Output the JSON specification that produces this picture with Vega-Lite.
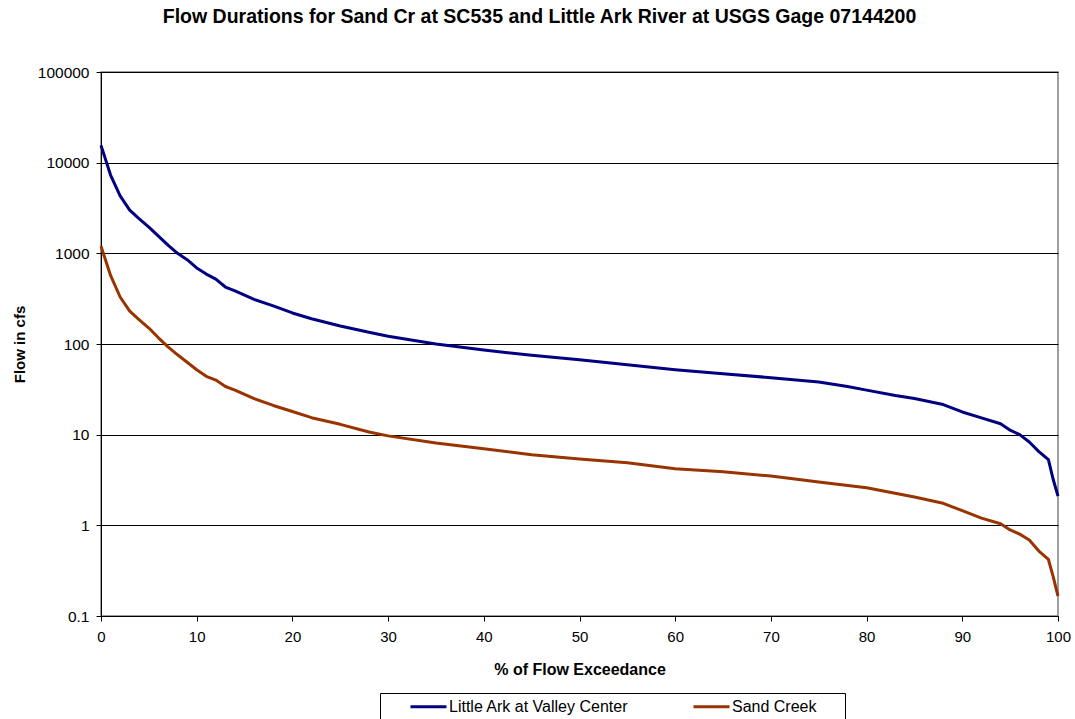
{
  "$schema": "https://vega.github.io/schema/vega-lite/v6.json",
  "autosize": "none",
  "width": 957,
  "height": 544,
  "padding": {"left": 101, "top": 72, "right": 17, "bottom": 103},
  "background": "white",
  "config": {
    "font": "Liberation Sans",
    "view": {"stroke": "#808080", "strokeWidth": 1.5}
  },
  "title": {
    "text": "Flow Durations for Sand Cr at SC535 and Little Ark River at USGS Gage 07144200",
    "font": "Liberation Sans",
    "fontSize": 19.5,
    "fontWeight": "bold",
    "color": "black",
    "anchor": "middle",
    "frame": "group",
    "dx": -40,
    "offset": 38
  },
  "data": {
    "values": [
      {"pct": 0, "flow": 15500, "series": "Little Ark at Valley Center"},
      {"pct": 1, "flow": 7300, "series": "Little Ark at Valley Center"},
      {"pct": 2, "flow": 4300, "series": "Little Ark at Valley Center"},
      {"pct": 3, "flow": 3000, "series": "Little Ark at Valley Center"},
      {"pct": 4, "flow": 2400, "series": "Little Ark at Valley Center"},
      {"pct": 5, "flow": 1950, "series": "Little Ark at Valley Center"},
      {"pct": 6, "flow": 1550, "series": "Little Ark at Valley Center"},
      {"pct": 7, "flow": 1230, "series": "Little Ark at Valley Center"},
      {"pct": 8, "flow": 1000, "series": "Little Ark at Valley Center"},
      {"pct": 9, "flow": 850, "series": "Little Ark at Valley Center"},
      {"pct": 10, "flow": 690, "series": "Little Ark at Valley Center"},
      {"pct": 11, "flow": 590, "series": "Little Ark at Valley Center"},
      {"pct": 12, "flow": 520, "series": "Little Ark at Valley Center"},
      {"pct": 13, "flow": 425, "series": "Little Ark at Valley Center"},
      {"pct": 14, "flow": 385, "series": "Little Ark at Valley Center"},
      {"pct": 15, "flow": 345, "series": "Little Ark at Valley Center"},
      {"pct": 16, "flow": 310, "series": "Little Ark at Valley Center"},
      {"pct": 18, "flow": 263, "series": "Little Ark at Valley Center"},
      {"pct": 20, "flow": 220, "series": "Little Ark at Valley Center"},
      {"pct": 22, "flow": 190, "series": "Little Ark at Valley Center"},
      {"pct": 25, "flow": 158, "series": "Little Ark at Valley Center"},
      {"pct": 28, "flow": 135, "series": "Little Ark at Valley Center"},
      {"pct": 30, "flow": 122, "series": "Little Ark at Valley Center"},
      {"pct": 35, "flow": 100, "series": "Little Ark at Valley Center"},
      {"pct": 40, "flow": 86, "series": "Little Ark at Valley Center"},
      {"pct": 45, "flow": 75, "series": "Little Ark at Valley Center"},
      {"pct": 50, "flow": 67, "series": "Little Ark at Valley Center"},
      {"pct": 55, "flow": 59, "series": "Little Ark at Valley Center"},
      {"pct": 60, "flow": 52, "series": "Little Ark at Valley Center"},
      {"pct": 65, "flow": 47, "series": "Little Ark at Valley Center"},
      {"pct": 70, "flow": 42.5, "series": "Little Ark at Valley Center"},
      {"pct": 75, "flow": 38, "series": "Little Ark at Valley Center"},
      {"pct": 78, "flow": 34, "series": "Little Ark at Valley Center"},
      {"pct": 80, "flow": 31, "series": "Little Ark at Valley Center"},
      {"pct": 83, "flow": 27, "series": "Little Ark at Valley Center"},
      {"pct": 85, "flow": 25, "series": "Little Ark at Valley Center"},
      {"pct": 88, "flow": 21.5, "series": "Little Ark at Valley Center"},
      {"pct": 90, "flow": 17.8, "series": "Little Ark at Valley Center"},
      {"pct": 92, "flow": 15.3, "series": "Little Ark at Valley Center"},
      {"pct": 94, "flow": 13.2, "series": "Little Ark at Valley Center"},
      {"pct": 95, "flow": 11.2, "series": "Little Ark at Valley Center"},
      {"pct": 96, "flow": 10, "series": "Little Ark at Valley Center"},
      {"pct": 97, "flow": 8.3, "series": "Little Ark at Valley Center"},
      {"pct": 98, "flow": 6.5, "series": "Little Ark at Valley Center"},
      {"pct": 99, "flow": 5.3, "series": "Little Ark at Valley Center"},
      {"pct": 99.5, "flow": 3.2, "series": "Little Ark at Valley Center"},
      {"pct": 100, "flow": 2.1, "series": "Little Ark at Valley Center"},
      {"pct": 0, "flow": 1200, "series": "Sand Creek"},
      {"pct": 1, "flow": 570, "series": "Sand Creek"},
      {"pct": 2, "flow": 330, "series": "Sand Creek"},
      {"pct": 3, "flow": 230, "series": "Sand Creek"},
      {"pct": 4, "flow": 185, "series": "Sand Creek"},
      {"pct": 5, "flow": 150, "series": "Sand Creek"},
      {"pct": 6, "flow": 117, "series": "Sand Creek"},
      {"pct": 7, "flow": 93, "series": "Sand Creek"},
      {"pct": 8, "flow": 76, "series": "Sand Creek"},
      {"pct": 9, "flow": 63, "series": "Sand Creek"},
      {"pct": 10, "flow": 52, "series": "Sand Creek"},
      {"pct": 11, "flow": 44, "series": "Sand Creek"},
      {"pct": 12, "flow": 40, "series": "Sand Creek"},
      {"pct": 13, "flow": 34, "series": "Sand Creek"},
      {"pct": 14, "flow": 31, "series": "Sand Creek"},
      {"pct": 16, "flow": 25, "series": "Sand Creek"},
      {"pct": 18, "flow": 21, "series": "Sand Creek"},
      {"pct": 20, "flow": 18, "series": "Sand Creek"},
      {"pct": 22, "flow": 15.4, "series": "Sand Creek"},
      {"pct": 25, "flow": 13, "series": "Sand Creek"},
      {"pct": 28, "flow": 10.7, "series": "Sand Creek"},
      {"pct": 30, "flow": 9.7, "series": "Sand Creek"},
      {"pct": 35, "flow": 8.1, "series": "Sand Creek"},
      {"pct": 40, "flow": 7.0, "series": "Sand Creek"},
      {"pct": 45, "flow": 6.0, "series": "Sand Creek"},
      {"pct": 50, "flow": 5.4, "series": "Sand Creek"},
      {"pct": 55, "flow": 4.9, "series": "Sand Creek"},
      {"pct": 60, "flow": 4.2, "series": "Sand Creek"},
      {"pct": 65, "flow": 3.9, "series": "Sand Creek"},
      {"pct": 70, "flow": 3.5, "series": "Sand Creek"},
      {"pct": 75, "flow": 3.0, "series": "Sand Creek"},
      {"pct": 80, "flow": 2.6, "series": "Sand Creek"},
      {"pct": 85, "flow": 2.05, "series": "Sand Creek"},
      {"pct": 88, "flow": 1.75, "series": "Sand Creek"},
      {"pct": 90, "flow": 1.45, "series": "Sand Creek"},
      {"pct": 92, "flow": 1.2, "series": "Sand Creek"},
      {"pct": 94, "flow": 1.04, "series": "Sand Creek"},
      {"pct": 95, "flow": 0.89, "series": "Sand Creek"},
      {"pct": 96, "flow": 0.8, "series": "Sand Creek"},
      {"pct": 97, "flow": 0.69, "series": "Sand Creek"},
      {"pct": 98, "flow": 0.52, "series": "Sand Creek"},
      {"pct": 99, "flow": 0.42, "series": "Sand Creek"},
      {"pct": 99.5, "flow": 0.27, "series": "Sand Creek"},
      {"pct": 100, "flow": 0.166, "series": "Sand Creek"}
    ]
  },
  "mark": {"type": "line", "strokeWidth": 3, "strokeJoin": "round", "clip": false},
  "encoding": {
    "x": {
      "field": "pct",
      "type": "quantitative",
      "scale": {"domain": [0, 100], "nice": false, "zero": false},
      "axis": {
        "title": "% of Flow Exceedance",
        "values": [0, 10, 20, 30, 40, 50, 60, 70, 80, 90, 100],
        "grid": false,
        "domainColor": "black",
        "domainWidth": 1,
        "tickColor": "black",
        "tickSize": 5,
        "labelFont": "Liberation Sans",
        "labelFontSize": 15,
        "labelColor": "black",
        "labelPadding": 8,
        "labelFlush": false,
        "titleFont": "Liberation Sans",
        "titleFontSize": 16,
        "titleFontWeight": "bold",
        "titleColor": "black",
        "titlePadding": 17
      }
    },
    "y": {
      "field": "flow",
      "type": "quantitative",
      "scale": {"type": "log", "domain": [0.1, 100000], "nice": false},
      "axis": {
        "title": "Flow in cfs",
        "values": [0.1, 1, 10, 100, 1000, 10000, 100000],
        "labelExpr": "datum.value < 1 ? format(datum.value, '.1f') : format(datum.value, 'd')",
        "grid": true,
        "gridColor": "black",
        "gridWidth": 1,
        "gridOpacity": 1,
        "domainColor": "black",
        "domainWidth": 1,
        "tickColor": "black",
        "tickSize": 5,
        "labelFont": "Liberation Sans",
        "labelFontSize": 15.5,
        "labelColor": "black",
        "labelPadding": 7,
        "labelFlush": false,
        "titleFont": "Liberation Sans",
        "titleFontSize": 15,
        "titleFontWeight": "bold",
        "titleColor": "black",
        "titlePadding": 10
      }
    },
    "color": {
      "field": "series",
      "type": "nominal",
      "scale": {"domain": ["Little Ark at Valley Center", "Sand Creek"], "range": ["#000080", "#993300"]},
      "legend": {
        "title": "_",
        "titleOrient": "right",
        "titleColor": "white",
        "titleFontSize": 28,
        "titlePadding": 10,
        "orient": "none",
        "legendX": 279,
        "legendY": 621,
        "direction": "horizontal",
        "columns": 2,
        "strokeColor": "black",
        "fillColor": "white",
        "padding": 3,
        "symbolType": "M-2,0H2",
        "symbolSize": 324,
        "symbolStrokeWidth": 3,
        "symbolFillColor": "transparent",
        "symbolOffset": 35,
        "labelOffset": 10,
        "columnPadding": 37,
        "labelFont": "Liberation Sans",
        "labelFontSize": 16,
        "labelColor": "black",
        "labelLimit": 400
      }
    }
  }
}
